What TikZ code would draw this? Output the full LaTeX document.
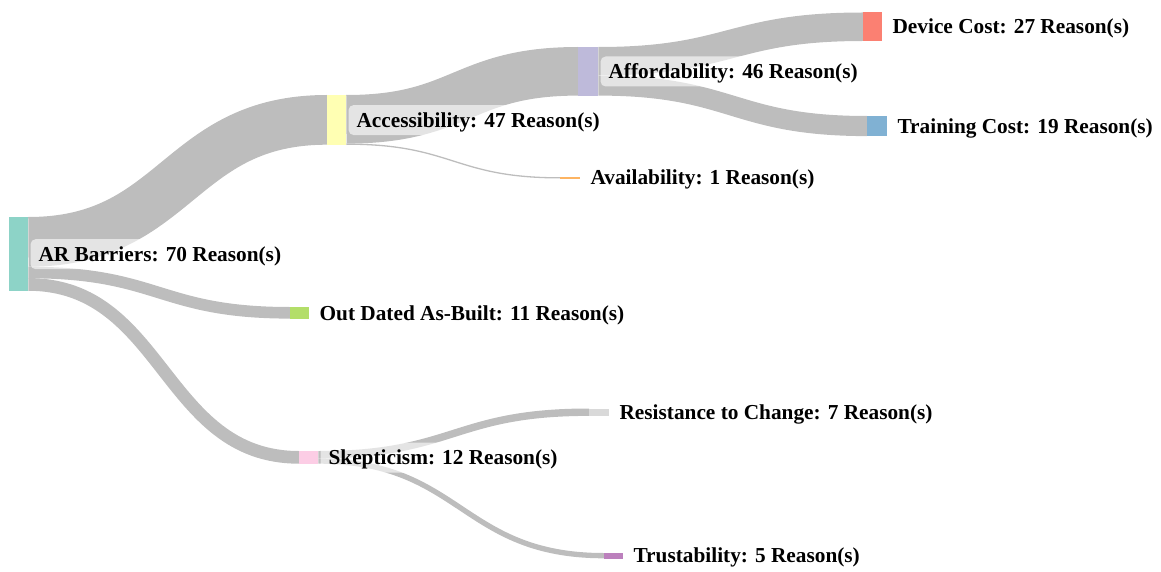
\documentclass[tikz,border=0pt]{standalone}
\usepackage{fontspec}
\setmainfont{Liberation Serif}
\begin{document}
\begin{tikzpicture}[x=1pt,y=-1pt,
  bar/.style={draw=none,inner sep=0pt,minimum width=19pt,anchor=north west},
  link/.style={draw=linkgray,line cap=butt},
  lbl/.style={anchor=west,fill=white,fill opacity=0.6,text opacity=1,
    rounded corners=5pt,inner xsep=8pt,inner ysep=5pt,
    text height=17pt,text depth=3pt,
    font=\fontsize{21.3}{25}\selectfont\bfseries}]
\definecolor{linkgray}{HTML}{BDBDBD}
\definecolor{cAR}{HTML}{8DD3C7}
\definecolor{cAcc}{HTML}{FFFFB3}
\definecolor{cAff}{HTML}{BEBADA}
\definecolor{cDev}{HTML}{FB8072}
\definecolor{cTra}{HTML}{80B1D3}
\definecolor{cAva}{HTML}{FDB462}
\definecolor{cOut}{HTML}{B3DE69}
\definecolor{cSke}{HTML}{FCCDE5}
\definecolor{cRes}{HTML}{D9D9D9}
\definecolor{cTru}{HTML}{BC80BD}
\useasboundingbox (0,0) rectangle (1161,572);

% node bars (height proportional to the number of reasons)
\node[bar,fill=cAR, minimum height=74pt]   (ar)  at (9,217) {};
\node[bar,fill=cAcc,minimum height=49.7pt] (acc) at (327,95) {};
\node[bar,fill=cAff,minimum height=48.6pt,minimum width=20pt] (aff) at (578,47) {};
\node[bar,fill=cDev,minimum height=28.5pt] (dev) at (863,12.5) {};
\node[bar,fill=cTra,minimum height=20.1pt,minimum width=20pt] (tra) at (867,116) {};
\node[bar,fill=cAva,minimum height=1.3pt,minimum width=20pt]  (ava) at (560,177) {};
\node[bar,fill=cOut,minimum height=11.6pt] (out) at (290,307) {};
\node[bar,fill=cSke,minimum height=12.7pt] (ske) at (299,451) {};
\node[bar,fill=cRes,minimum height=7.4pt,minimum width=20pt]  (res) at (589,408.5) {};
\node[bar,fill=cTru,minimum height=5.3pt]  (tru) at (604,553) {};

% flows: stroked Bezier bands, width proportional to the value
\draw[link,line width=49.7pt] ([yshift=-24.85pt]ar.north east) .. controls +(149.5,0) and +(-149.5,0) .. ([yshift=-24.85pt]acc.north west);
\draw[link,line width=11.6pt] ([yshift=-55.5pt]ar.north east) .. controls +(131,0) and +(-131,0) .. ([yshift=-5.8pt]out.north west);
\draw[link,line width=12.7pt] ([yshift=-67.45pt]ar.north east) .. controls +(135.5,0) and +(-135.5,0) .. ([yshift=-6.35pt]ske.north west);
\draw[link,line width=48.6pt] ([yshift=-24.3pt]acc.north east) .. controls +(116,0) and +(-116,0) .. ([yshift=-24.3pt]aff.north west);
\draw[link,line width=1.3pt] ([yshift=-49.15pt]acc.north east) .. controls +(107,0) and +(-107,0) .. (ava.west);
\draw[link,line width=28.5pt] ([yshift=-14.25pt]aff.north east) .. controls +(132.5,0) and +(-132.5,0) .. ([yshift=-14.25pt]dev.north west);
\draw[link,line width=20.1pt] ([yshift=-38.55pt]aff.north east) .. controls +(134.5,0) and +(-134.5,0) .. ([yshift=-10.05pt]tra.north west);
\draw[link,line width=7.4pt] ([yshift=-3.7pt]ske.north east) .. controls +(135.5,0) and +(-135.5,0) .. ([yshift=-3.7pt]res.north west);
\draw[link,line width=5.3pt] ([yshift=-10.05pt]ske.north east) .. controls +(143,0) and +(-143,0) .. ([yshift=-2.65pt]tru.north west);

% bars again on top of the flow ends
\foreach \n/\c in {ar/cAR,acc/cAcc,aff/cAff,dev/cDev,tra/cTra,ava/cAva,out/cOut,ske/cSke,res/cRes,tru/cTru}
  \fill[\c] (\n.north west) rectangle (\n.south east);

% labels
\node[lbl] (arL)  at ([xshift=2pt]ar.east)  {AR Barriers: 70 Reason(s)};
\node[lbl] (accL) at ([xshift=2pt]acc.east) {Accessibility: 47 Reason(s)};
\node[lbl] (affL) at ([xshift=2pt]aff.east) {Affordability: 46 Reason(s)};
\node[lbl] (devL) at ([xshift=2pt]dev.east) {Device Cost: 27 Reason(s)};
\node[lbl] (traL) at ([xshift=2pt]tra.east) {Training Cost: 19 Reason(s)};
\node[lbl] (avaL) at ([xshift=2pt]ava.east) {Availability: 1 Reason(s)};
\node[lbl] (outL) at ([xshift=2pt]out.east) {Out Dated As-Built: 11 Reason(s)};
\node[lbl] (skeL) at ([xshift=2pt]ske.east) {Skepticism: 12 Reason(s)};
\node[lbl] (resL) at ([xshift=2pt]res.east) {Resistance to Change: 7 Reason(s)};
\node[lbl] (truL) at ([xshift=2pt]tru.east) {Trustability: 5 Reason(s)};
\end{tikzpicture}
\end{document}
